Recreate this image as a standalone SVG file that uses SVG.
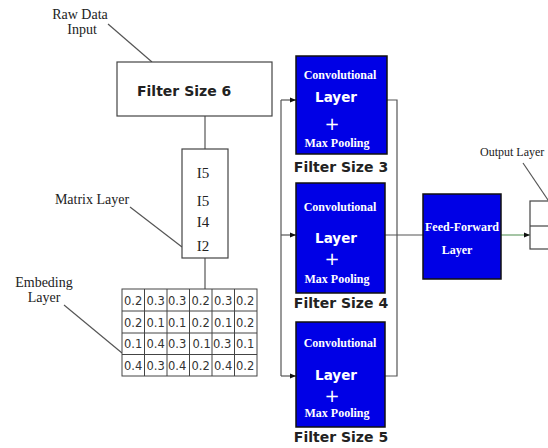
<svg xmlns="http://www.w3.org/2000/svg" width="548" height="448" viewBox="0 0 548 448">
<style>
.serif{font-family:"Liberation Serif","Times New Roman",serif;fill:#222}
.lbl{font-size:14px}
.sans{font-family:"DejaVu Sans",Verdana,sans-serif}
.fs{font-size:14px;font-weight:bold;fill:#222}
.box{fill:#fff;stroke:#444;stroke-width:1.2}
.blue{fill:#0000e6;stroke:#111;stroke-width:1.5}
.cb{font-family:"Liberation Serif","Times New Roman",serif;font-weight:bold;font-size:12px;fill:#fff}
.cl{font-family:"DejaVu Sans",Verdana,sans-serif;font-weight:bold;font-size:13.5px;fill:#fff}
.plus{font-family:"DejaVu Sans",Verdana,sans-serif;font-size:18px;fill:#fff}
.ln{stroke:#555;stroke-width:1.2;fill:none}
.grid{fill:#fff;stroke:#444;stroke-width:1}
.gv{font-family:"DejaVu Sans",Verdana,sans-serif;font-size:11.5px;fill:#333}
.mx{font-family:"Liberation Serif","Times New Roman",serif;font-size:15px;fill:#222}
</style>
<defs>
<marker id="ah" markerWidth="6" markerHeight="6" refX="6" refY="3" orient="auto" markerUnits="userSpaceOnUse">
<path d="M0,0.5 L6,3 L0,5.5 Z" fill="#111"/>
</marker>
</defs>
<rect width="548" height="448" fill="#fff"/>

<g id="connectors">
<line class="ln" x1="108" y1="24" x2="152" y2="62"/>
<line class="ln" x1="205" y1="116" x2="205" y2="149"/>
<line class="ln" x1="130" y1="207" x2="182" y2="247"/>
<line class="ln" x1="205" y1="258" x2="205" y2="289"/>
<line class="ln" x1="64" y1="305" x2="122" y2="353"/>
<path class="ln" d="M281,100 L281,376"/>
<line class="ln" x1="281" y1="100" x2="296" y2="100" marker-end="url(#ah)"/>
<line class="ln" x1="281" y1="235" x2="296" y2="235" marker-end="url(#ah)"/>
<line class="ln" x1="281" y1="376" x2="296" y2="376" marker-end="url(#ah)"/>
<path class="ln" d="M387,100 L397,100 L397,376 L385,376"/>
<line class="ln" x1="385" y1="235" x2="423" y2="235"/>
<line x1="501" y1="235" x2="530" y2="235" stroke="#6a9e6a" stroke-width="1.2" marker-end="url(#ah)"/>
<line class="ln" x1="523" y1="163" x2="550" y2="203"/>
</g>

<g id="raw-data-label">
<text class="serif lbl" x="80" y="19" text-anchor="middle">Raw Data</text>
<text class="serif lbl" x="82" y="34" text-anchor="middle">Input</text>
</g>

<g id="filter6">
<rect class="box" x="117" y="62" width="155" height="54"/>
<text class="sans fs" x="137" y="96">Filter Size 6</text>
</g>

<g id="matrix-layer-label">
<text class="serif lbl" x="92" y="204" text-anchor="middle">Matrix Layer</text>
</g>

<g id="matrix">
<rect class="box" x="182" y="149" width="46" height="109"/>
<text class="mx" x="203" y="178" text-anchor="middle">I5</text>
<text class="mx" x="203" y="206" text-anchor="middle">I5</text>
<text class="mx" x="203" y="227" text-anchor="middle">I4</text>
<text class="mx" x="203" y="251" text-anchor="middle">I2</text>
</g>

<g id="embedding-label">
<text class="serif lbl" x="44" y="287" text-anchor="middle">Embeding</text>
<text class="serif lbl" x="44" y="302" text-anchor="middle">Layer</text>
</g>

<g id="embedding-grid">
<rect class="grid" x="122" y="289" width="135" height="87"/>
<path d="M144.5,289V376M167,289V376M189.5,289V376M212,289V376M234.5,289V376M122,311H257M122,333H257M122,354.5H257" stroke="#444" stroke-width="1" fill="none"/>
<g class="gv">
<text x="124" y="304.5">0.2</text><text x="146.5" y="304.5">0.3</text><text x="168" y="304.5">0.3</text><text x="191.5" y="304.5">0.2</text><text x="214" y="304.5">0.3</text><text x="236" y="304.5">0.2</text>
<text x="124" y="326.5">0.2</text><text x="146.5" y="326.5">0.1</text><text x="168" y="326.5">0.1</text><text x="191.5" y="326.5">0.2</text><text x="214" y="326.5">0.1</text><text x="236" y="326.5">0.2</text>
<text x="124" y="348">0.1</text><text x="146.5" y="348">0.4</text><text x="168" y="348">0.3</text><text x="192.5" y="348">0.1</text><text x="213" y="348">0.3</text><text x="236" y="348">0.1</text>
<text x="124" y="369.5">0.4</text><text x="146.5" y="369.5">0.3</text><text x="168" y="369.5">0.4</text><text x="191.5" y="369.5">0.2</text><text x="214" y="369.5">0.4</text><text x="236" y="369.5">0.2</text>
</g>
</g>

<g id="conv3">
<rect class="blue" x="296" y="56" width="91" height="98"/>
<text class="cb" x="340" y="79" text-anchor="middle">Convolutional</text>
<text class="cl" x="336" y="102" text-anchor="middle">Layer</text>
<text class="plus" x="332" y="130" text-anchor="middle">+</text>
<text class="cb" x="337" y="147" text-anchor="middle">Max Pooling</text>
<text class="sans fs" x="341" y="172" text-anchor="middle">Filter Size 3</text>
</g>

<g id="conv4">
<rect class="blue" x="296" y="183" width="89" height="110"/>
<text class="cb" x="340" y="211" text-anchor="middle">Convolutional</text>
<text class="cl" x="336" y="243" text-anchor="middle">Layer</text>
<text class="plus" x="332" y="265" text-anchor="middle">+</text>
<text class="cb" x="337" y="283" text-anchor="middle">Max Pooling</text>
<text class="sans fs" x="341" y="308" text-anchor="middle">Filter Size 4</text>
</g>

<g id="conv5">
<rect class="blue" x="296" y="322" width="89" height="105"/>
<text class="cb" x="340" y="347" text-anchor="middle">Convolutional</text>
<text class="cl" x="336" y="380" text-anchor="middle">Layer</text>
<text class="plus" x="332" y="402" text-anchor="middle">+</text>
<text class="cb" x="337" y="417" text-anchor="middle">Max Pooling</text>
<text class="sans fs" x="341" y="442" text-anchor="middle">Filter Size 5</text>
</g>

<g id="feed-forward">
<rect class="blue" x="423" y="194" width="78" height="85"/>
<text class="cb" x="462" y="231" text-anchor="middle">Feed-Forward</text>
<text class="cb" x="457" y="254" text-anchor="middle">Layer</text>
</g>

<g id="output-layer">
<text class="serif" x="480" y="156" font-size="12">Output Layer</text>
<rect class="box" x="530" y="201" width="40" height="48"/>
<line x1="530" y1="226" x2="548" y2="226" stroke="#444" stroke-width="1.2"/>
</g>
</svg>
